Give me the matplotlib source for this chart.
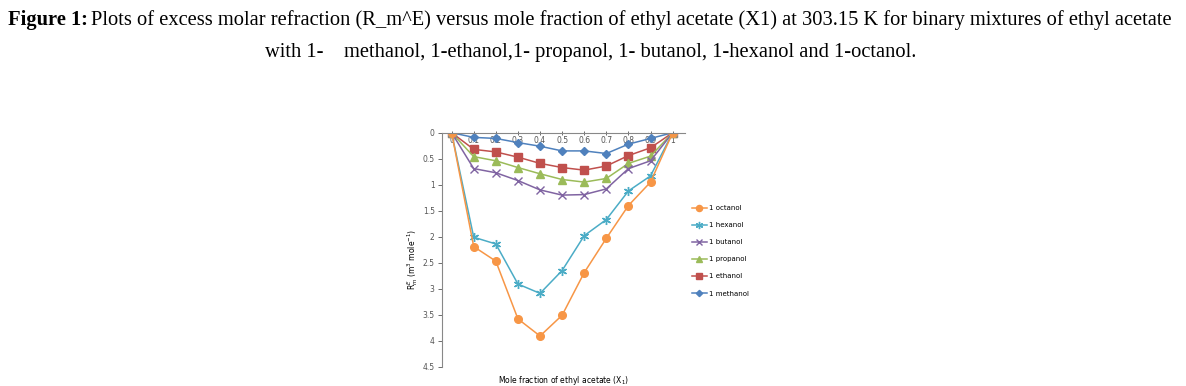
import matplotlib
matplotlib.use("Agg")
import matplotlib.pyplot as plt

x1 = [0, 0.1, 0.2, 0.3, 0.4, 0.5, 0.6, 0.7, 0.8, 0.9, 1.0]

octanol = [0, 2.19, 2.47, 3.58, 3.91, 3.51, 2.69, 2.03, 1.40, 0.95, 0]
hexanol = [0, 2.01, 2.14, 2.91, 3.09, 2.65, 1.98, 1.67, 1.12, 0.83, 0]
butanol = [0, 0.69, 0.77, 0.92, 1.10, 1.20, 1.19, 1.08, 0.69, 0.54, 0]
propanol = [0, 0.46, 0.54, 0.67, 0.79, 0.90, 0.95, 0.88, 0.59, 0.45, 0]
ethanol = [0, 0.32, 0.37, 0.47, 0.59, 0.67, 0.72, 0.64, 0.44, 0.29, 0]
methanol = [0, 0.09, 0.11, 0.19, 0.26, 0.35, 0.35, 0.40, 0.22, 0.11, 0]

series = [
    ("1 octanol", octanol, "#F79646", "o", 5.5),
    ("1 hexanol", hexanol, "#4BACC6", (6, 2, 0), 6.5),
    ("1 butanol", butanol, "#8064A2", "x", 5.5),
    ("1 propanol", propanol, "#9BBB59", "^", 5.5),
    ("1 ethanol", ethanol, "#C0504D", "s", 5.5),
    ("1 methanol", methanol, "#4F81BD", "D", 4),
]

fig = plt.figure(figsize=[11.86, 3.86], dpi=100)
ax = fig.add_axes([0.3724, 0.05, 0.2052, 0.6062])

for name, vals, col, mk, ms in reversed(series):
    ax.plot(x1, vals, color=col, marker=mk, markersize=ms, lw=1.1,
            markeredgewidth=1.0, label=name)

ax.set_xlim(-0.045, 1.056)
ax.set_ylim(4.5, 0)
ax.set_yticks([0, 0.5, 1, 1.5, 2, 2.5, 3, 3.5, 4, 4.5])
ax.set_yticklabels(["0", "0.5", "1", "1.5", "2", "2.5", "3", "3.5", "4", "4.5"])
ax.set_xticks(x1)
ax.set_xticklabels(["0", "0.1", "0.2", "0.3", "0.4", "0.5", "0.6", "0.7", "0.8", "0.9", "1"])
ax.xaxis.tick_top()
ax.tick_params(axis="x", direction="inout", length=3, pad=-10, labelsize=5.5,
               colors="#555555", width=0.6, labeltop=True)
ax.tick_params(axis="y", direction="out", length=3, pad=2, labelsize=5.5,
               colors="#555555", width=0.6)
for s in ["right", "bottom"]:
    ax.spines[s].set_visible(False)
for s in ["top", "left"]:
    ax.spines[s].set_color("#888888")
    ax.spines[s].set_linewidth(0.8)

ax.set_ylabel(r"R$^{E}_{m}$ (m$^{3}$ mole$^{-1}$)", fontsize=5.5)
ax.yaxis.set_label_coords(-0.09, 0.46)
ax.set_xlabel(r"Mole fraction of ethyl acetate (X$_{1}$)", fontsize=5.5)
ax.xaxis.set_label_position("bottom")
ax.xaxis.set_label_coords(0.5, -0.03)

h, l = ax.get_legend_handles_labels()
leg = fig.legend(h[::-1], l[::-1], loc="upper left", bbox_to_anchor=(0.578, 0.485),
                 frameon=False, fontsize=5, labelspacing=1.6, handlelength=2.2,
                 handletextpad=0.3, markerscale=0.8)

# caption
serif = "Liberation Serif"
fs = 14.8
t1 = fig.text(8 / 1186, 1 - 20 / 386, "Figure 1:", fontsize=fs, fontweight="bold",
              family=serif, ha="left", va="center")
r = fig.canvas.get_renderer()
bb = t1.get_window_extent(r)
fig.text(bb.x1 / 1186 + 3 / 1186, 1 - 20 / 386,
         "Plots of excess molar refraction (R_m^E) versus mole fraction of ethyl acetate (X1) at 303.15 K for binary mixtures of ethyl acetate",
         fontsize=fs, family=serif, ha="left", va="center")
fig.text(591 / 1186, 1 - 52 / 386,
         "with 1-    methanol, 1-ethanol,1- propanol, 1- butanol, 1-hexanol and 1-octanol.",
         fontsize=fs, family=serif, ha="center", va="center")

fig.savefig("out.png", dpi=100)
